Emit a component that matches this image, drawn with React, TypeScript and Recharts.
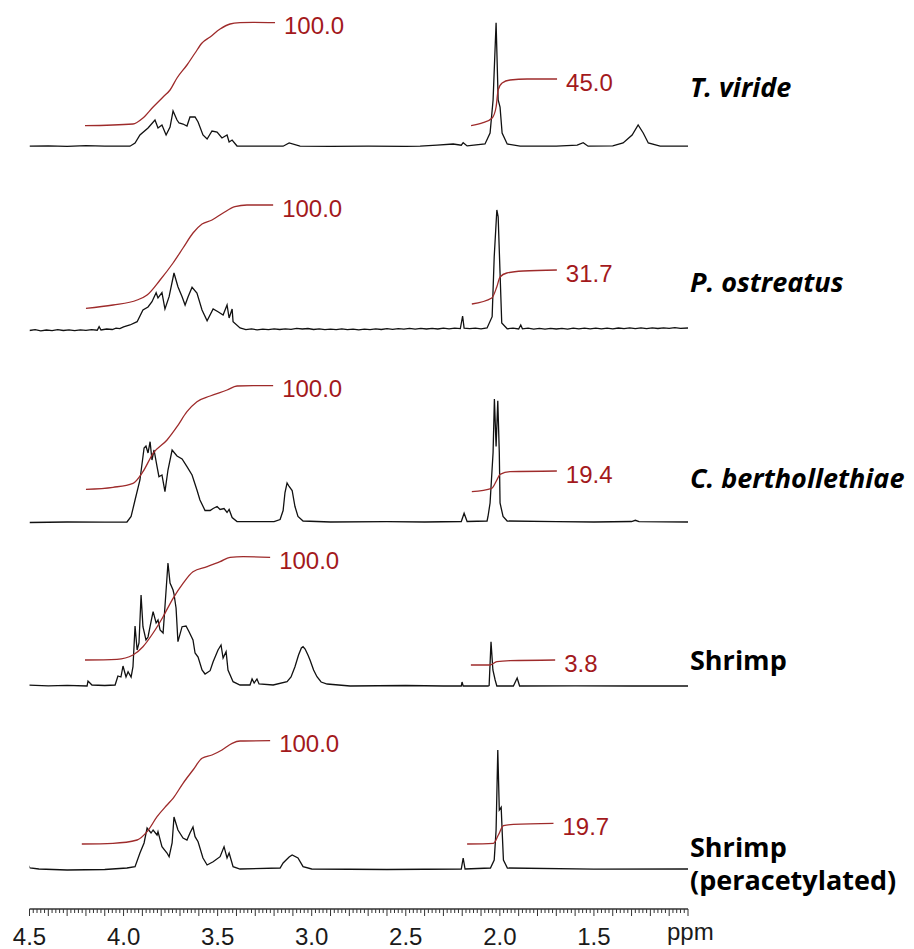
import { LineChart, Line, XAxis, YAxis } from "recharts"

type Pt = [number, number]

// [ppm, height above that spectrum's own baseline]
const VIRIDE: Pt[] = [
  [4.5, 0.5], [4.4, 0.8], [4.3, 0.3], [4.2, 1], [4.1, 0.5], [4.0, 0.5], [3.966, 0.5], [3.939, 3.7], [3.913, 11.7],
  [3.87, 18.7], [3.833, 26.7], [3.817, 18.7], [3.796, 21.7], [3.774, 11.7], [3.753, 19.7], [3.737, 35.7],
  [3.716, 26.7], [3.705, 23.7], [3.684, 22.7], [3.663, 20.7], [3.647, 29.7], [3.62, 29.7], [3.604, 24.7],
  [3.578, 11.7], [3.556, 7.7], [3.53, 15.7], [3.503, 14.7], [3.477, 8.7], [3.45, 11.7], [3.439, 4.7],
  [3.423, 6.7], [3.397, 0.7], [3.3, 0.5], [3.152, 0.5], [3.12, 3.7], [3.062, 0.5], [2.9, 0.3], [2.7, 0.5],
  [2.5, 0.3], [2.424, 0.5], [2.334, 1.5], [2.248, 2.7], [2.205, 1.5], [2.195, 4], [2.174, 0.8], [2.079, 2.7],
  [2.052, 13.7], [2.036, 46.7], [2.02, 124], [2.009, 46.7], [1.999, 39.7], [1.988, 13.7], [1.961, 2.7],
  [1.892, 0.5], [1.7, 0.5], [1.589, 1.5], [1.557, 4], [1.531, 0.5], [1.4, 0.8], [1.345, 3.7], [1.297, 11.7],
  [1.265, 21.7], [1.238, 13.7], [1.211, 3.7], [1.148, 0.5], [1.0, 0.5],
]

const OSTREATUS: Pt[] = [
  [4.5, 0.5], [4.47, 1.3], [4.44, 0.2], [4.41, 1], [4.38, 0.4], [4.35, 1.4], [4.32, 0.5], [4.29, 1.1], [4.26, 0.3],
  [4.23, 1.2], [4.2, 0.6], [4.17, 1.3], [4.14, 0.8], [4.13, 4.3], [4.12, 1], [4.09, 2], [4.06, 1.5],
  [4.04, 2.8], [4.02, 2.3], [4.0, 4.2], [3.966, 6], [3.928, 9.3], [3.897, 21], [3.87, 24], [3.849, 29.3],
  [3.827, 38.3], [3.817, 33], [3.796, 38.3], [3.78, 22], [3.758, 34.3], [3.732, 58], [3.711, 44.3],
  [3.689, 34.3], [3.673, 26], [3.657, 34.3], [3.636, 43.7], [3.61, 38], [3.583, 21], [3.556, 10.3],
  [3.524, 22], [3.498, 19.3], [3.471, 16], [3.45, 26], [3.439, 13], [3.423, 22], [3.418, 9.3], [3.381, 3],
  [3.35, 1.4], [3.32, 2.1], [3.29, 1.2], [3.26, 1.9], [3.23, 1.3], [3.2, 2.2], [3.17, 1.5], [3.14, 2.2],
  [3.11, 1.6], [3.08, 2.6], [3.05, 2], [3.02, 2.5], [2.99, 1.5], [2.96, 2.1], [2.93, 1.3], [2.9, 1.9],
  [2.87, 1.3], [2.84, 2.1], [2.81, 1.4], [2.78, 1.9], [2.75, 1.2], [2.72, 1.8], [2.69, 1.3], [2.66, 2.2],
  [2.63, 1.5], [2.6, 2.3], [2.57, 1.6], [2.54, 2.4], [2.51, 1.8], [2.48, 2.6], [2.45, 1.9], [2.42, 2.7],
  [2.39, 2], [2.36, 2.7], [2.33, 2], [2.3, 2.8], [2.27, 2.2], [2.24, 2.9], [2.21, 2.4], [2.198, 15], [2.19, 2.8],
  [2.16, 2.3], [2.13, 2.9], [2.1, 2.2], [2.068, 3], [2.041, 14.3], [2.03, 74.3], [2.016, 121], [2.009, 114.3],
  [1.999, 58], [1.99, 8], [1.961, 2.2], [1.93, 2.8], [1.9, 2], [1.889, 6], [1.88, 2.2], [1.85, 2.8],
  [1.82, 1.9], [1.79, 2.6], [1.76, 1.9], [1.73, 2.7], [1.7, 2], [1.67, 2.7], [1.64, 1.9], [1.61, 2.8],
  [1.58, 2.1], [1.55, 2.9], [1.52, 2.2], [1.49, 2.8], [1.46, 2.1], [1.43, 2.9], [1.4, 2.2], [1.37, 3],
  [1.34, 2.3], [1.31, 3.2], [1.28, 2.4], [1.25, 3.1], [1.22, 2.3], [1.19, 3.1], [1.16, 2.5], [1.13, 3.2],
  [1.1, 2.6], [1.07, 3.3], [1.04, 2.7], [1.0, 3],
]

const BERTHOLLETHIAE: Pt[] = [
  [4.5, 0], [4.3, 0.5], [4.1, 0.3], [3.982, 0.5], [3.96, 6], [3.939, 22.5], [3.913, 42.5], [3.891, 74.5],
  [3.881, 76.5], [3.87, 69.5], [3.859, 80.8], [3.849, 62.5], [3.838, 72.5], [3.822, 55.8], [3.812, 45.8],
  [3.796, 47.5], [3.78, 30.8], [3.764, 52.5], [3.742, 72.5], [3.716, 66.5], [3.689, 63.5], [3.663, 55.8],
  [3.636, 47.5], [3.61, 32.5], [3.594, 22.5], [3.567, 12], [3.54, 12], [3.524, 14], [3.503, 16], [3.487, 13],
  [3.466, 14], [3.45, 10], [3.439, 13], [3.423, 5], [3.397, 1], [3.2, 0.8], [3.168, 3], [3.152, 12],
  [3.142, 30], [3.131, 39.5], [3.12, 36], [3.104, 32], [3.089, 16], [3.073, 6], [3.046, 1.5], [2.9, 0.5],
  [2.6, 0.8], [2.4, 0.5], [2.205, 1], [2.19, 9.2], [2.174, 1], [2.068, 1.5], [2.063, 6], [2.052, 19.5],
  [2.036, 70], [2.029, 123.5], [2.02, 76], [2.011, 121.8], [2.003, 70], [1.999, 19.5], [1.983, 6],
  [1.961, 1.5], [1.7, 0.8], [1.5, 0.5], [1.3, 1], [1.28, 2.2], [1.26, 0.8], [1.0, 0.5],
]

const SHRIMP: Pt[] = [
  [4.508, 2], [4.4, 1.2], [4.3, 1.6], [4.194, 1], [4.189, 6], [4.168, 2], [4.1, 1.5], [4.045, 2], [4.03, 11],
  [4.014, 10], [4.003, 21], [3.987, 10], [3.976, 15.3], [3.96, 10], [3.95, 20.3], [3.939, 61], [3.928, 37],
  [3.918, 44], [3.907, 92], [3.897, 60.3], [3.881, 47], [3.87, 50], [3.854, 65.3], [3.843, 75.3], [3.827, 64],
  [3.817, 67], [3.806, 57], [3.79, 54], [3.785, 67], [3.764, 124], [3.753, 104], [3.737, 97], [3.732, 93],
  [3.721, 79], [3.711, 45.3], [3.689, 60.3], [3.668, 61], [3.652, 55.3], [3.631, 47], [3.62, 34], [3.604, 30],
  [3.583, 17], [3.567, 13], [3.54, 16.3], [3.524, 25.3], [3.498, 37], [3.482, 42], [3.471, 29], [3.455, 35.3],
  [3.445, 17], [3.418, 5.3], [3.381, 2], [3.328, 2], [3.317, 8], [3.306, 4], [3.291, 8], [3.28, 3], [3.205, 2],
  [3.131, 5.3], [3.11, 10], [3.089, 20.3], [3.07, 32], [3.055, 39], [3.046, 40.3], [3.035, 38], [3.02, 32],
  [3.009, 27], [2.99, 17], [2.972, 10.3], [2.95, 5], [2.918, 3], [2.796, 1], [2.5, 1.5], [2.3, 1], [2.205, 1],
  [2.201, 5], [2.195, 1], [2.063, 1], [2.057, 1.5], [2.047, 45.3], [2.037, 17], [2.025, 7], [2.016, 1],
  [1.928, 1], [1.908, 9], [1.895, 1], [1.6, 1.2], [1.3, 1], [1.0, 1],
]

const PERACETYLATED: Pt[] = [
  [4.519, 8.3], [4.508, 5], [4.497, 2], [4.45, 1], [4.3, 0], [4.1, 0.5], [3.982, 2], [3.939, 3.3], [3.913, 17],
  [3.891, 27], [3.875, 42], [3.854, 37], [3.843, 40], [3.822, 35], [3.817, 38.3], [3.796, 23.3], [3.769, 17],
  [3.758, 13.3], [3.742, 27], [3.732, 53], [3.711, 40], [3.684, 32], [3.663, 30], [3.647, 37], [3.631, 43],
  [3.62, 33.3], [3.604, 28.3], [3.578, 12], [3.556, 5], [3.524, 8.3], [3.487, 13.3], [3.466, 23.3], [3.45, 12],
  [3.439, 17], [3.418, 3.3], [3.381, 1], [3.168, 2], [3.152, 7], [3.12, 13], [3.104, 15], [3.073, 12],
  [3.046, 3.3], [3.0, 1], [2.6, 0.5], [2.205, 1], [2.195, 12], [2.185, 1], [2.05, 2], [2.03, 10], [2.02, 40],
  [2.011, 120], [2.003, 60], [1.993, 62.7], [1.988, 40], [1.981, 10], [1.96, 2], [1.5, 0.8], [1.0, 1],
]

// integral traces, same units
const VIRIDE_RING: Pt[] = [
  [4.205, 21], [3.95, 22.7], [3.897, 28.7], [3.843, 39.7], [3.79, 49.7], [3.753, 56.7], [3.716, 68.7],
  [3.663, 81.7], [3.62, 93.7], [3.583, 103.7], [3.54, 109.7], [3.487, 117.7], [3.434, 122.7], [3.381, 124],
  [3.312, 124.4], [3.195, 124],
]
const VIRIDE_ACETYL: Pt[] = [
  [2.153, 21], [2.089, 24], [2.041, 28.7], [2.02, 39.7], [2.009, 56.7], [1.988, 63.7], [1.946, 66.7],
  [1.855, 67.7], [1.696, 67.7],
]
const OSTREATUS_RING: Pt[] = [
  [4.2, 22.7], [4.056, 26], [3.928, 31], [3.875, 36], [3.806, 51], [3.737, 68], [3.684, 83], [3.631, 98],
  [3.583, 107], [3.53, 111], [3.471, 118], [3.408, 124.3], [3.344, 126], [3.205, 126],
]
const OSTREATUS_ACETYL: Pt[] = [
  [2.149, 27], [2.043, 33], [2.016, 44.3], [1.999, 54], [1.963, 58], [1.876, 60], [1.697, 61],
]
const BERTHOLLETHIAE_RING: Pt[] = [
  [4.2, 33.2], [4.056, 35.2], [3.95, 39.2], [3.897, 50.8], [3.843, 69.2], [3.769, 82.5], [3.716, 95.8],
  [3.663, 110.8], [3.61, 120.8], [3.54, 126.5], [3.45, 132.5], [3.397, 136.5], [3.312, 136.8], [3.205, 136.8],
]
const BERTHOLLETHIAE_ACETYL: Pt[] = [
  [2.149, 30.8], [2.043, 34.2], [2.016, 42.5], [1.999, 48.2], [1.946, 50.8], [1.697, 51.5],
]
const SHRIMP_RING: Pt[] = [
  [4.205, 27], [4.035, 27.7], [3.95, 32], [3.897, 40.3], [3.843, 54], [3.79, 70.3], [3.737, 88.7],
  [3.684, 103.7], [3.631, 115.3], [3.556, 120.3], [3.487, 125.3], [3.434, 129.7], [3.365, 130.3], [3.221, 129.7],
]
const SHRIMP_ACETYL: Pt[] = [[2.154, 22], [2.052, 22], [2.016, 25.3], [1.946, 26.3], [1.706, 27]]
const PERACETYLATED_RING: Pt[] = [
  [4.222, 26], [4.056, 26.7], [3.928, 30], [3.875, 38.3], [3.822, 53.3], [3.769, 65], [3.737, 71.7],
  [3.684, 86.7], [3.631, 100], [3.583, 111.7], [3.53, 115], [3.477, 120], [3.423, 126.7], [3.381, 129],
  [3.221, 129.3],
]
const PERACETYLATED_ACETYL: Pt[] = [
  [2.174, 26], [2.034, 26.7], [2.008, 35], [1.981, 44.3], [1.928, 45.7], [1.715, 46.7],
]

const SPECTRA = [VIRIDE, OSTREATUS, BERTHOLLETHIAE, SHRIMP, PERACETYLATED]
const RING_INTEGRALS = [VIRIDE_RING, OSTREATUS_RING, BERTHOLLETHIAE_RING, SHRIMP_RING, PERACETYLATED_RING]
const ACETYL_INTEGRALS = [VIRIDE_ACETYL, OSTREATUS_ACETYL, BERTHOLLETHIAE_ACETYL, SHRIMP_ACETYL, PERACETYLATED_ACETYL]
const RING_LABELS = ["100.0", "100.0", "100.0", "100.0", "100.0"]
const ACETYL_LABELS = ["45.0", "31.7", "19.4", "3.8", "19.7"]
const SAMPLE_NAMES = ["T. viride", "P. ostreatus", "C. berthollethiae", "Shrimp", "Shrimp\n(peracetylated)"]
const SAMPLE_ITALIC = [true, true, true, false, false]
const X_LABELS = [4.5, 4.0, 3.5, 3.0, 2.5, 2.0, 1.5]

// layout
const W = 914
const H = 949
const PLOT_BOTTOM = 909
const BASELINES = [762.3, 578, 386.5, 222, 39]
const NAME_TOPS = [70, 265, 461, 643, 830]
const RED = "#a3191c"
const INTEGRAL_RED = "#9e2b2b"

const TICKS = Array.from({ length: 176 }, (_, i) => +(4.5 - i * 0.02).toFixed(2))

const toRows = (pts: Pt[], base: number) => pts.map(([x, h]) => ({ x, y: base + h }))

function PpmTick(props: any) {
  const { x, y, payload } = props
  const v = payload.value as number
  const c = Math.round(v * 100)
  const tenth = c % 10 === 0
  const labelled = X_LABELS.some((l) => Math.round(l * 100) === c)
  return (
    <g>
      <line x1={x} x2={x} y1={y} y2={y + (tenth ? 7 : 4)} stroke="#333" strokeWidth={1} />
      {labelled && (
        <text x={x} y={y + 36} textAnchor="middle" fontSize={24} fill="#1a1a1a"
          fontFamily="'Liberation Sans', Arial, sans-serif">
          {v.toFixed(1)}
        </text>
      )}
    </g>
  )
}

const endLabel = (text: string, count: number) => (props: any) => {
  if (props.index !== count - 1) return <g key={`l${props.index}`} />
  return (
    <text key={`l${props.index}`} x={props.x + 9} y={props.y + 11.5} fontSize={24} fill={RED}
      fontFamily="'Liberation Sans', Arial, sans-serif">
      {text}
    </text>
  )
}

export default function App() {
  return (
    <div style={{ position: "absolute", left: 0, top: 0, width: W, height: H, background: "#fff" }}>
      <LineChart width={W} height={H} margin={{ top: 0, right: 226, bottom: 0, left: 29.5 }}>
        <XAxis
          dataKey="x"
          type="number"
          domain={[1.0, 4.5]}
          reversed
          allowDataOverflow
          ticks={TICKS}
          interval={0}
          tick={<PpmTick />}
          tickLine={false}
          tickSize={0}
          tickMargin={0}
          axisLine={{ stroke: "#333", strokeWidth: 1.5 }}
          height={H - PLOT_BOTTOM}
        />
        <YAxis hide type="number" domain={[0, PLOT_BOTTOM]} allowDataOverflow />
        {SPECTRA.map((s, i) => (
          <Line
            key={`spec${i}`}
            data={toRows(s, BASELINES[i])}
            dataKey="y"
            type="linear"
            stroke="#111"
            strokeWidth={1.3}
            dot={false}
            activeDot={false}
            isAnimationActive={false}
          />
        ))}
        {RING_INTEGRALS.map((s, i) => (
          <Line
            key={`ring${i}`}
            data={toRows(s, BASELINES[i])}
            dataKey="y"
            type="monotone"
            stroke={INTEGRAL_RED}
            strokeWidth={1.3}
            dot={false}
            activeDot={false}
            label={endLabel(RING_LABELS[i], s.length)}
            isAnimationActive={false}
          />
        ))}
        {ACETYL_INTEGRALS.map((s, i) => (
          <Line
            key={`ac${i}`}
            data={toRows(s, BASELINES[i])}
            dataKey="y"
            type="monotone"
            stroke={INTEGRAL_RED}
            strokeWidth={1.3}
            dot={false}
            activeDot={false}
            label={endLabel(ACETYL_LABELS[i], s.length)}
            isAnimationActive={false}
          />
        ))}
      </LineChart>
      {SAMPLE_NAMES.map((name, i) => (
        <div
          key={name}
          style={{
            position: "absolute",
            left: 690,
            top: NAME_TOPS[i],
            fontFamily: "'Open Sans', sans-serif",
            fontWeight: 700,
            fontStyle: SAMPLE_ITALIC[i] ? "italic" : "normal",
            fontSize: 27,
            lineHeight: "33px",
            whiteSpace: "pre",
            color: "#000",
          }}
        >
          {name}
        </div>
      ))}
      <div
        style={{
          position: "absolute",
          left: 667,
          top: 918,
          fontFamily: "'Liberation Sans', Arial, sans-serif",
          fontSize: 24,
          color: "#1a1a1a",
        }}
      >
        ppm
      </div>
    </div>
  )
}
